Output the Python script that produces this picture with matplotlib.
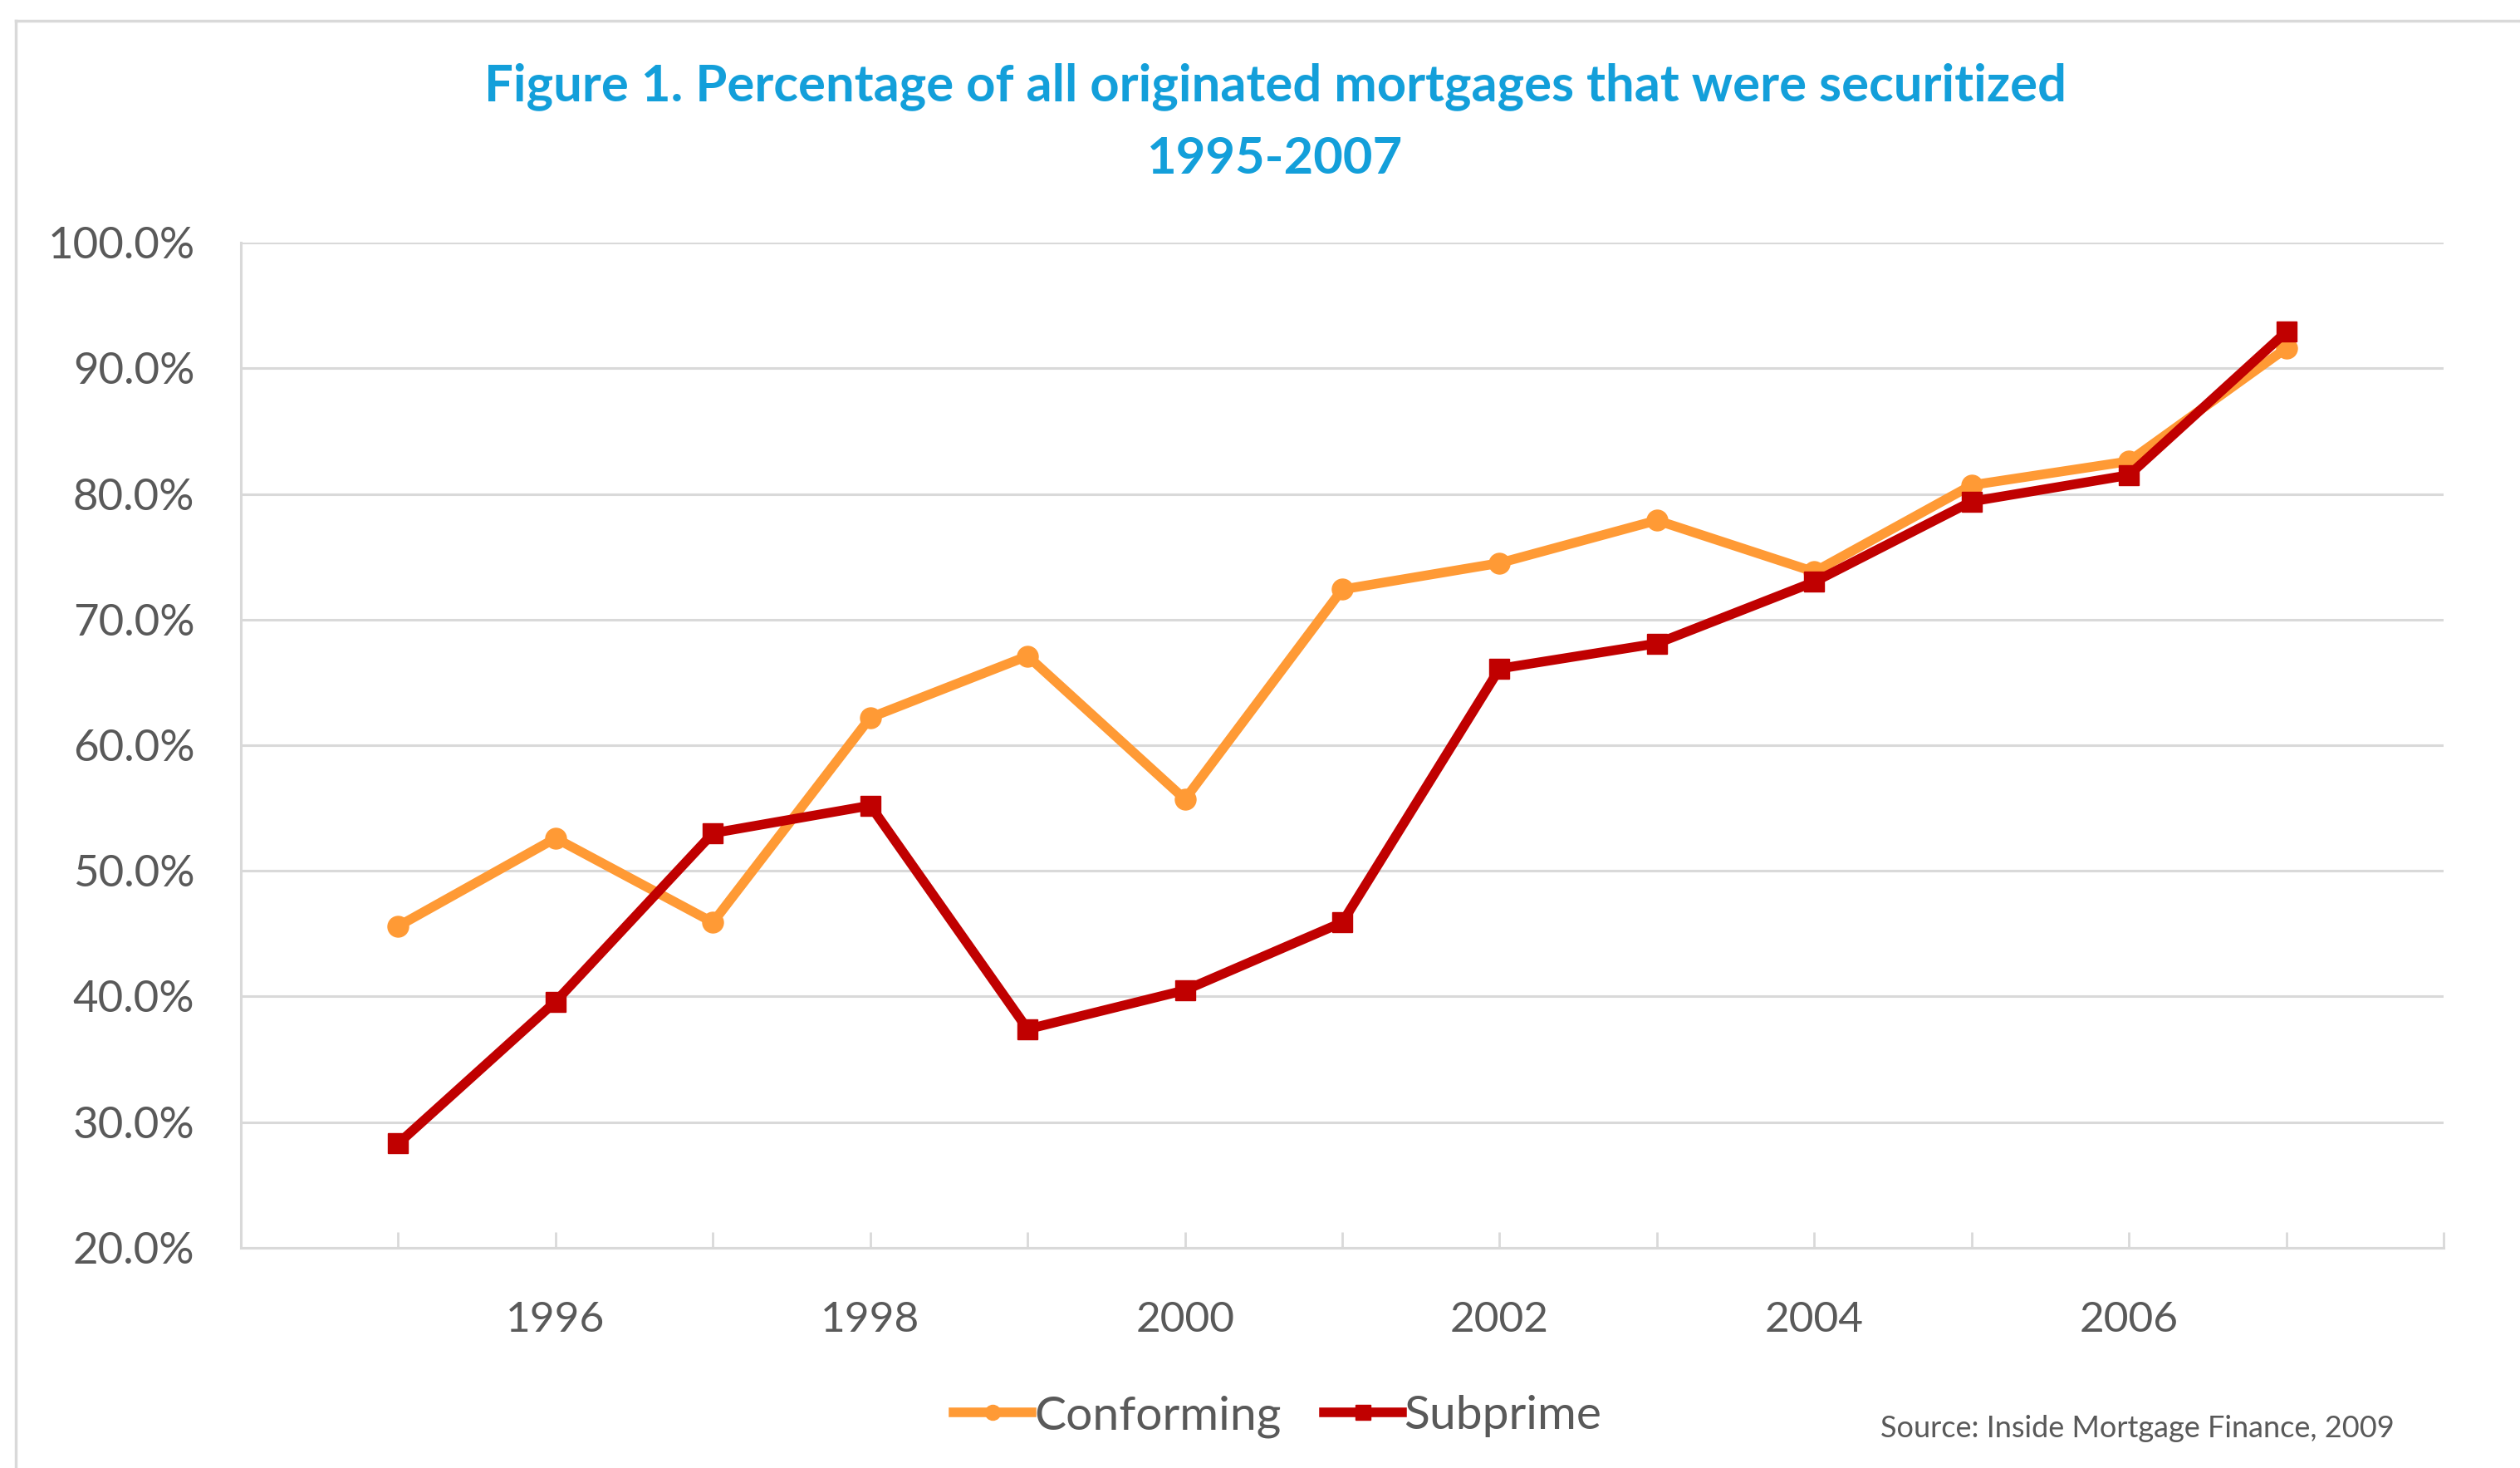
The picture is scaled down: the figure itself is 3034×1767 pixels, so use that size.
import matplotlib
matplotlib.use("Agg")
from matplotlib import pyplot as plt
from matplotlib.lines import Line2D
from matplotlib.ticker import MultipleLocator, FixedLocator

years = [1995, 1996, 1997, 1998, 1999, 2000, 2001, 2002, 2003, 2004, 2005, 2006, 2007]
conforming = [45.6, 52.6, 45.9, 62.2, 67.1, 55.7, 72.4, 74.5, 77.9, 73.8, 80.7, 82.6, 91.6]
subprime = [28.3, 39.6, 53.0, 55.2, 37.4, 40.5, 45.9, 66.1, 68.1, 73.0, 79.4, 81.5, 92.9]
year_labels = [1996, 1998, 2000, 2002, 2004, 2006]

fam = ['Lato', 'DejaVu Sans']
gray = '#595959'
grid = '#D9D9D9'

fig = plt.figure(figsize=(30.34, 17.67), dpi=100)
ax = fig.add_axes([0.0956, 0.150, 0.8741, 0.6847])

ax.plot(years, conforming, color='#FF9A35', lw=8.3, marker='o', ms=18, label='Conforming', zorder=3)
ax.plot(years, subprime, color='#C00000', lw=8.3, marker='s', ms=17, label='Subprime', zorder=4)

ax.set_xlim(1994, 2008)
ax.set_ylim(20, 100)
ax.yaxis.set_major_locator(MultipleLocator(10))
ax.yaxis.set_major_formatter(lambda v, p: f"{v:.1f}%")
ax.xaxis.set_major_locator(FixedLocator(year_labels))
ax.xaxis.set_minor_locator(MultipleLocator(1))
ax.grid(axis='y', color=grid, lw=2.2)
ax.set_axisbelow(True)

for s in ['top', 'right']:
    ax.spines[s].set_visible(False)
for s in ['left', 'bottom']:
    ax.spines[s].set_color(grid)
    ax.spines[s].set_linewidth(2.2)

ax.tick_params(axis='y', length=0, pad=40, labelsize=38, labelcolor=gray)
ax.tick_params(axis='x', which='both', direction='in', length=14, width=2, color=grid,
               pad=46, labelsize=37, labelcolor=gray)
for lab in ax.get_xticklabels() + ax.get_yticklabels():
    lab.set_family(fam)

fig.text(0.506, 0.941, "Figure 1. Percentage of all originated mortgages that were securitized",
         ha='center', va='center', fontsize=44.3, fontweight='bold', color='#139FDA', family=fam)
fig.text(0.506, 0.892, "1995-2007", ha='center', va='center', fontsize=44.3,
         fontweight='bold', color='#139FDA', family=fam)

leg = fig.legend(loc='center', bbox_to_anchor=(0.507, 0.0352), ncol=2, frameon=False,
                 handlelength=1.65, handletextpad=0.05, columnspacing=0.9,
                 prop={'family': fam, 'size': 41})
for t in leg.get_texts():
    t.set_color(gray)
for h in leg.legend_handles:
    h.set_markersize(13)

fig.text(0.950, 0.0266, "Source: Inside Mortgage Finance, 2009", ha='right', va='center',
         fontsize=26, color=gray, family=fam)

# light frame around the graphic
fig.add_artist(Line2D([0.0063, 0.0063], [0, 0.986], color=grid, lw=2.5, transform=fig.transFigure))
fig.add_artist(Line2D([0.0063, 1], [0.986, 0.986], color=grid, lw=2.5, transform=fig.transFigure))

fig.savefig('out.png', dpi=100)
